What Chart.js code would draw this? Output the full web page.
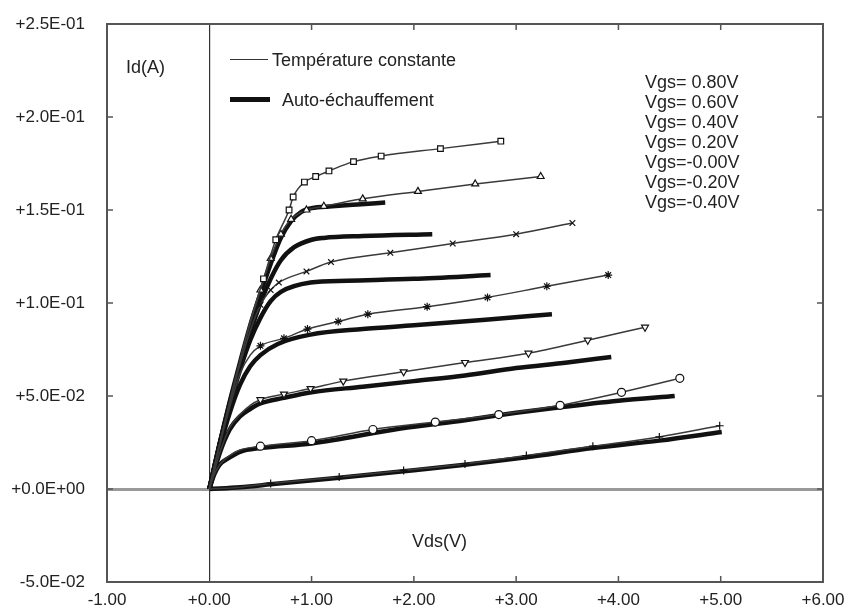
<!DOCTYPE html>
<html>
<head>
<meta charset="utf-8">
<script src="https://cdn.jsdelivr.net/npm/chart.js@4.4.1/dist/chart.umd.min.js"></script>
<style>
  body { margin: 0; background: #fff; }
  #wrap { position: relative; width: 848px; height: 612px; font-family: 'Liberation Sans', Arial, sans-serif; color: #222; }
  #wrap div.txt { position: absolute; font-size: 18px; line-height: 20px; white-space: nowrap; }
  .ligne { position: absolute; height: 0; }
</style>
</head>
<body>
<div id="wrap">
  <canvas id="graficoIdVds" width="848" height="612"></canvas>
  <div class="txt" style="left:126px; top:57px;">Id(A)</div>
  <div class="ligne" style="left:230px; top:59px; width:38px; border-top:1.5px solid #333;"></div>
  <div class="txt" style="left:272px; top:50px;">Température constante</div>
  <div class="ligne" style="left:230px; top:97px; width:40px; border-top:5px solid #111;"></div>
  <div class="txt" style="left:282px; top:90px;">Auto-échauffement</div>
  <div class="txt" id="vgs" style="left:645px; top:72px;"></div>
  <div class="txt" style="left:412px; top:531px;">Vds(V)</div>
</div>
<script>
// etiquettes
var xTicks = ['-1.00', '+0.00', '+1.00', '+2.00', '+3.00', '+4.00', '+5.00', '+6.00'];
var yTicks = ['-5.0E-02', '+0.0E+00', '+5.0E-02', '+1.0E-01', '+1.5E-01', '+2.0E-01', '+2.5E-01'];
var vgsLabels = ['Vgs= 0.80V', 'Vgs= 0.60V', 'Vgs= 0.40V', 'Vgs= 0.20V', 'Vgs=-0.00V', 'Vgs=-0.20V', 'Vgs=-0.40V'];

// température constante (Vds, Id)
var tc080 = [[0,0],[0.1,0.024],[0.2,0.047],[0.3,0.069],[0.4,0.09],[0.53,0.113],[0.65,0.134],[0.78,0.15],[0.82,0.157],[0.93,0.165],[1.04,0.168],[1.17,0.171],[1.41,0.176],[1.68,0.179],[2.26,0.183],[2.85,0.187]];
var tc060 = [[0,0],[0.1,0.024],[0.2,0.047],[0.3,0.069],[0.4,0.089],[0.5,0.107],[0.6,0.124],[0.7,0.137],[0.8,0.145],[0.95,0.15],[1.12,0.152],[1.5,0.156],[2.04,0.16],[2.6,0.164],[3.24,0.168]];
var tc040 = [[0,0],[0.1,0.024],[0.2,0.046],[0.3,0.067],[0.4,0.085],[0.5,0.099],[0.6,0.107],[0.68,0.111],[0.95,0.117],[1.19,0.122],[1.77,0.127],[2.38,0.132],[3.0,0.137],[3.55,0.143]];
var tc020 = [[0,0],[0.1,0.023],[0.2,0.044],[0.3,0.062],[0.4,0.072],[0.5,0.077],[0.73,0.081],[0.96,0.086],[1.26,0.09],[1.55,0.094],[2.13,0.098],[2.72,0.103],[3.3,0.109],[3.9,0.115]];
var tc000 = [[0,0],[0.1,0.019],[0.2,0.033],[0.3,0.04],[0.4,0.045],[0.5,0.048],[0.73,0.051],[0.99,0.054],[1.31,0.058],[1.9,0.063],[2.5,0.068],[3.12,0.073],[3.7,0.08],[4.26,0.087]];
var tcm020 = [[0,0],[0.05,0.008],[0.1,0.013],[0.2,0.018],[0.3,0.021],[0.5,0.023],[1.0,0.026],[1.6,0.032],[2.21,0.036],[2.83,0.04],[3.43,0.045],[4.03,0.052],[4.6,0.0595]];
var tcm040 = [[0,0],[0.3,0.001],[0.6,0.003],[1.27,0.0065],[1.9,0.01],[2.5,0.0135],[3.1,0.018],[3.75,0.023],[4.4,0.028],[4.99,0.034]];

// auto-échauffement (Vds, Id)
var ae080 = [[0,0],[0.1,0.024],[0.2,0.047],[0.3,0.068],[0.4,0.088],[0.5,0.105],[0.6,0.121],[0.7,0.135],[0.8,0.144],[0.9,0.149],[1.0,0.151],[1.2,0.152],[1.45,0.153],[1.72,0.154]];
var ae060 = [[0,0],[0.1,0.024],[0.2,0.046],[0.3,0.066],[0.4,0.084],[0.5,0.1],[0.6,0.113],[0.7,0.123],[0.83,0.13],[1.0,0.134],[1.12,0.135],[1.5,0.136],[2.18,0.137]];
var ae040 = [[0,0],[0.1,0.024],[0.2,0.045],[0.3,0.064],[0.4,0.08],[0.5,0.092],[0.6,0.101],[0.7,0.106],[0.99,0.111],[1.35,0.112],[2.0,0.113],[2.75,0.115]];
var ae020 = [[0,0],[0.1,0.022],[0.2,0.041],[0.3,0.056],[0.4,0.066],[0.5,0.072],[0.67,0.078],[0.99,0.083],[1.5,0.086],[2.0,0.088],[2.7,0.091],[3.35,0.094]];
var ae000 = [[0,0],[0.1,0.019],[0.2,0.032],[0.3,0.039],[0.4,0.043],[0.5,0.046],[0.73,0.049],[1.0,0.052],[1.5,0.055],[2.0,0.058],[2.5,0.061],[3.0,0.065],[3.5,0.068],[3.93,0.071]];
var aem020 = [[0,0],[0.05,0.008],[0.1,0.013],[0.2,0.017],[0.3,0.02],[0.5,0.022],[1.0,0.0245],[1.87,0.0325],[2.5,0.037],[3.0,0.041],[3.43,0.044],[4.0,0.0475],[4.55,0.05]];
var aem040 = [[0,0],[0.3,0.001],[0.6,0.0025],[1.27,0.006],[1.9,0.0095],[2.5,0.013],[3.1,0.017],[3.75,0.022],[4.4,0.026],[5.01,0.0306]];

document.getElementById('vgs').innerHTML = vgsLabels.join('<br>');

function pts(a) {
	return a.map(function(p) { return { x: p[0], y: p[1] }; });
}

var courbesTC = [tc080, tc060, tc040, tc020, tc000, tcm020, tcm040];
var courbesAE = [ae080, ae060, ae040, ae020, ae000, aem020, aem040];
var marqueurs = ['rect', 'triangle', 'crossRot', 'star', 'triangle', 'circle', 'cross'];

var datasets = [];
courbesTC.forEach(function(c, i) {
	datasets.push({
		label: vgsLabels[i],
		data: pts(c),
		borderColor: '#3a3a3a',
		borderWidth: 1.5,
		pointStyle: marqueurs[i],
		pointRotation: i == 4 ? 180 : 0,
		pointRadius: function(ctx) { return ctx.raw && ctx.raw.x >= 0.5 ? 4 : 0; },
		pointBorderColor: '#111',
		pointBackgroundColor: '#fff',
		pointBorderWidth: 1.2,
		cubicInterpolationMode: 'monotone',
		order: 0
	});
});
courbesAE.forEach(function(c, i) {
	datasets.push({
		label: vgsLabels[i] + ' AE',
		data: pts(c),
		borderColor: '#111',
		borderWidth: 4.5,
		pointRadius: 0,
		cubicInterpolationMode: 'monotone',
		order: 1
	});
});

// cadre + petites graduations internes
var cadre = {
	id: 'cadre',
	afterDraw: function(chart) {
		var ctx = chart.ctx, a = chart.chartArea;
		var sx = chart.scales.x, sy = chart.scales.y;
		ctx.save();
		ctx.strokeStyle = '#555';
		ctx.lineWidth = 2;
		ctx.strokeRect(a.left, a.top, a.right - a.left, a.bottom - a.top);
		ctx.lineWidth = 1.5;
		ctx.beginPath();
		sx.ticks.forEach(function(t) {
			if (t.value <= 0 || t.value >= 6) return;
			var px = sx.getPixelForValue(t.value);
			ctx.moveTo(px, a.top); ctx.lineTo(px, a.top + 6);
			ctx.moveTo(px, a.bottom); ctx.lineTo(px, a.bottom - 6);
		});
		sy.ticks.forEach(function(t) {
			var py = sy.getPixelForValue(t.value);
			ctx.moveTo(a.left, py); ctx.lineTo(a.left + 6, py);
			ctx.moveTo(a.right, py); ctx.lineTo(a.right - 6, py);
		});
		ctx.stroke();
		ctx.restore();
	}
};

var police = { family: "'Liberation Sans', Arial, sans-serif", size: 17 };
var transparent = 'rgba(0,0,0,0)';

new Chart(document.getElementById('graficoIdVds').getContext('2d'), {
	type: 'line',
	data: { datasets: datasets },
	options: {
		responsive: false,
		animation: false,
		layout: { padding: { top: 24, right: 25, left: 0, bottom: 0 } },
		plugins: { legend: { display: false }, tooltip: { enabled: false } },
		scales: {
			x: {
				type: 'linear', min: -1, max: 6,
				border: { display: false },
				grid: {
					drawTicks: true, tickLength: 8, tickColor: transparent,
					color: function(c) { return c.tick && c.tick.value === 0 ? '#333' : transparent; },
					lineWidth: 1.2
				},
				ticks: {
					stepSize: 1, autoSkip: false, maxRotation: 0, padding: 0,
					color: '#222', font: police,
					callback: function(v, i) { return xTicks[i]; }
				},
				afterFit: function(s) { s.height = 30; }
			},
			y: {
				type: 'linear', min: -0.05, max: 0.25,
				border: { display: false },
				grid: {
					drawTicks: true, tickLength: 22, tickColor: transparent,
					color: function(c) { return c.tick && Math.abs(c.tick.value) < 1e-9 ? '#999' : transparent; },
					lineWidth: 3
				},
				ticks: {
					stepSize: 0.05, autoSkip: false, padding: 0,
					color: '#222', font: police,
					callback: function(v, i) { return yTicks[i]; }
				},
				afterFit: function(s) { s.width = 107; }
			}
		}
	},
	plugins: [cadre]
});
</script>
</body>
</html>
